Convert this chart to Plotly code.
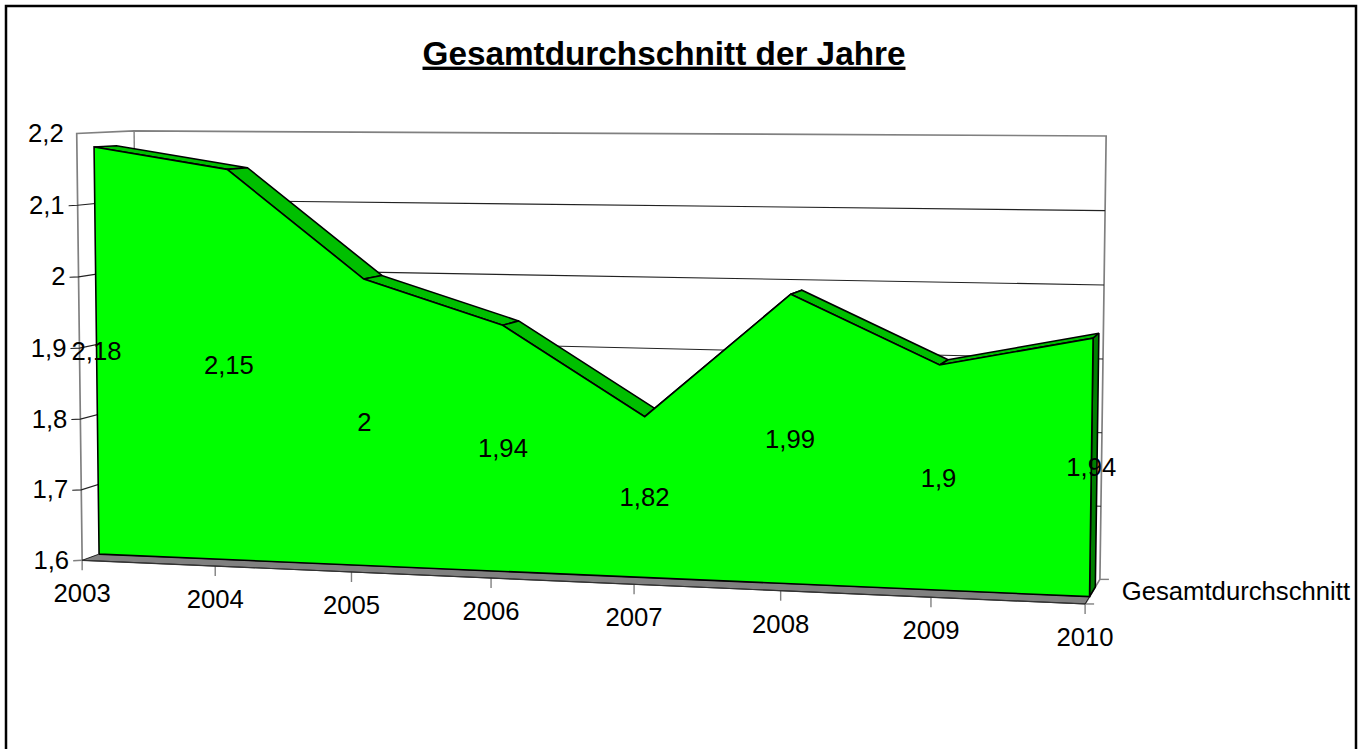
import numpy as np
import plotly.graph_objects as go

# ---- data ----
years = ["2003", "2004", "2005", "2006", "2007", "2008", "2009", "2010"]
values = [2.18, 2.15, 2.0, 1.94, 1.82, 1.99, 1.9, 1.94]
value_labels = ["2,18", "2,15", "2", "1,94", "1,82", "1,99", "1,9", "1,94"]
y_ticks = [1.6, 1.7, 1.8, 1.9, 2.0, 2.1, 2.2]
y_tick_labels = ["1,6", "1,7", "1,8", "1,9", "2", "2,1", "2,2"]
series_name = "Gesamtdurchschnitt"
chart_title = "Gesamtdurchschnitt der Jahre"

# ---- oblique 3D box scale: (category, value, depth) -> page position ----
Y_MIN, Y_MAX = y_ticks[0], y_ticks[-1]
N = len(years) - 1
D1, D2 = 0.29, 0.68  # depth range of the area slab inside the box


def vn(val):
    return (val - Y_MIN) / (Y_MAX - Y_MIN)


CAL = [  # calibration of the projective scale: (i, val, depth, px, py)
    (0, 1.6, 0, 82.3, 560), (7, 1.6, 0, 1084.3, 604.3),
    (0, 2.2, 0, 75, 133.3), (0, 2.2, 1, 134, 131.7),
    (7, 2.2, 1, 1106, 136.7), (7, 1.6, 1, 1100.7, 580.7),
    (7, 2.1, 1, 1105.3, 211.3), (7, 2.0, 1, 1104, 284.7), (7, 1.9, 1, 1103.3, 359.3),
    (1, 1.6, 0, 216, 565.9), (2, 1.6, 0, 351, 571.9), (3, 1.6, 0, 491, 578.1),
    (4, 1.6, 0, 635, 584.4), (5, 1.6, 0, 780, 590.8), (6, 1.6, 0, 931, 597.5),
    (0, 1.6, D1, 99, 554.5), (7, 1.6, D1, 1089.3, 596.7),
    (0, 2.18, D1, 93.3, 147.7), (1, 2.15, D1, 228.3, 170), (2, 2.0, D1, 364, 279.3),
    (3, 1.94, D1, 504, 325.3), (4, 1.82, D1, 645.7, 418.3), (5, 1.99, D1, 792.3, 294),
    (6, 1.9, D1, 940, 365), (7, 1.94, D1, 1092.7, 337.7),
    (0, 2.18, D2, 118, 145.3), (1, 2.15, D2, 247.3, 167.7), (2, 2.0, D2, 380, 274),
    (3, 1.94, D2, 519, 321), (4, 1.82, D2, 655.7, 408.7), (5, 1.99, D2, 802.7, 290),
    (6, 1.9, D2, 947, 357.3), (7, 1.94, D2, 1098.7, 333),
]
A = []
for i, val, d, px, py in CAL:
    X = [i / N, vn(val), d, 1.0]
    u, w = px / 1000, py / 1000
    A.append(X + [0, 0, 0, 0] + [-u * c for c in X])
    A.append([0, 0, 0, 0] + X + [-w * c for c in X])
_, _, vt = np.linalg.svd(np.array(A))
M = vt[-1].reshape(3, 4)


def P(i, val, d):
    h = M @ np.array([i / N, vn(val), d, 1.0])
    return float(h[0] / h[2] * 1000), float(h[1] / h[2] * 1000)


fig = go.Figure()


def line(pts, color="#000000", width=1.0):
    fig.add_trace(go.Scatter(x=[p[0] for p in pts], y=[p[1] for p in pts], mode="lines",
                             line=dict(color=color, width=width), hoverinfo="skip", showlegend=False))


def poly(pts, fill, lw=1.6):
    pts = list(pts) + [pts[0]]
    fig.add_trace(go.Scatter(x=[p[0] for p in pts], y=[p[1] for p in pts], mode="lines",
                             fill="toself", fillcolor=fill, line=dict(color="#000000", width=lw),
                             hoverinfo="skip", showlegend=False))


TEXT_DY = 2.2


def text(x, y, s, pos="middle center", size=25.7):
    fig.add_trace(go.Scatter(x=[x], y=[y + TEXT_DY], mode="text", text=[s], textposition=pos,
                             textfont=dict(family="Liberation Sans, Arial, sans-serif", size=size, color="#000000"),
                             hoverinfo="skip", showlegend=False))


GREY = "#808080"
# box edges
line([P(0, Y_MIN, 0), P(0, Y_MAX, 0), P(0, Y_MAX, 1), P(N, Y_MAX, 1), P(N, Y_MIN, 1), P(N, Y_MIN, 0)], GREY, 1.7)
line([P(0, Y_MAX, 1), P(0, Y_MIN, 1)], GREY, 1.4)
# gridlines with their ticks
for t, lab in zip(y_ticks, y_tick_labels):
    f = P(0, t, 0)
    if Y_MIN < t < Y_MAX:
        line([(f[0] - 9, f[1] + 0.4), f, P(0, t, 1), P(N, t, 1)], "#222222", 1.1)
    elif t == Y_MIN:
        line([(f[0] - 9, f[1] + 0.4), f], GREY, 1.4)
    text(f[0] - 13, f[1], lab, "middle left")
# category ticks and labels
for i, lab in enumerate(years):
    f = P(i, Y_MIN, 0)
    line([f, (f[0], f[1] + 10)], GREY, 1.4)
    text(f[0], f[1] + 33.5, lab)
# depth ticks
for d in (0, 1):
    f = P(N, Y_MIN, d)
    line([f, (f[0] + 9, f[1])], GREY, 1.4)
# floor under the slab
poly([P(0, Y_MIN, 0), P(N, Y_MIN, 0), P(N, Y_MIN, D1), P(0, Y_MIN, D1)], GREY, 0.8)
line([P(0, Y_MIN, 0), P(N, Y_MIN, 0)], "#333333", 1.2)
# slab: top facets, end face, front face
for i in range(N):
    poly([P(i, values[i], D1), P(i + 1, values[i + 1], D1), P(i + 1, values[i + 1], D2), P(i, values[i], D2)], "#00BF00")
poly([P(N, Y_MIN, D1), P(N, values[N], D1), P(N, values[N], D2), P(N, Y_MIN, D2)], "#008000")
poly([P(0, Y_MIN, D1)] + [P(i, values[i], D1) for i in range(N + 1)] + [P(N, Y_MIN, D1)], "#00FF00")
# value labels at half height of the front face
for i, lab in enumerate(value_labels):
    px, py = P(i, (values[i] + Y_MIN) / 2, D1)
    text(px, py, lab)
# series label on the depth axis
m = P(N, Y_MIN, 0.5)
text(m[0] + 29, m[1], series_name, "middle right")

fig.update_layout(
    width=1361, height=749, margin=dict(l=0, r=0, t=0, b=0),
    paper_bgcolor="#FFFFFF", plot_bgcolor="#FFFFFF", showlegend=False,
    xaxis=dict(range=[0, 1361], visible=False, fixedrange=True),
    yaxis=dict(range=[749, 0], visible=False, fixedrange=True),
    title=dict(text="<b><u>" + chart_title + "</u></b>", x=664 / 1361, xanchor="center",
               y=1 - 53 / 749, yanchor="middle",
               font=dict(family="Liberation Sans, Arial, sans-serif", size=33.3, color="#000000")),
    shapes=[dict(type="rect", xref="paper", yref="paper", x0=6 / 1361, x1=1356 / 1361,
                 y0=-0.05, y1=1 - 6 / 749, line=dict(color="#000000", width=2.5))],
)
fig.write_html("out.html", config=dict(displayModeBar=False),
               post_script="document.body.style.margin='0';document.documentElement.style.overflow='hidden';")
